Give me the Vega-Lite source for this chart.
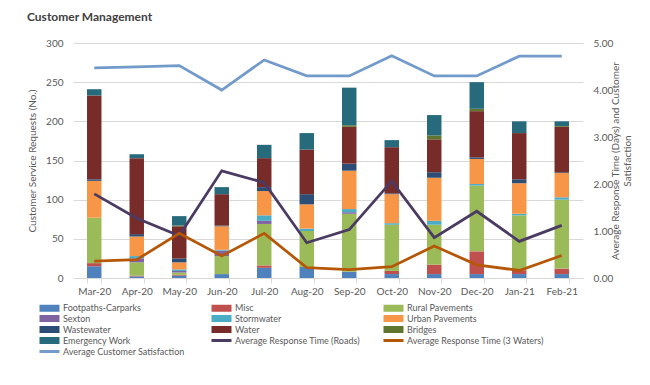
{
  "$schema": "https://vega.github.io/schema/vega-lite/v6.json",
  "autosize": "none",
  "width": 510,
  "height": 235,
  "padding": {"left": 73, "top": 43, "right": 67, "bottom": 107},
  "background": "white",
  "title": {
    "text": "Customer Management",
    "anchor": "start",
    "frame": "group",
    "dx": -46,
    "fontSize": 12,
    "fontWeight": "bold",
    "font": "Lato",
    "color": "#404040",
    "offset": 14
  },
  "config": {
    "font": "Lato",
    "view": {"stroke": null},
    "axis": {"labelColor": "#595959", "titleColor": "#595959", "labelFontSize": 10, "titleFontSize": 10, "titleFontWeight": "normal", "labelFont": "Lato", "titleFont": "Lato"}
  },
  "datasets": {
    "bars": [
      {"month": "Mar-20", "series": "Footpaths-Carparks", "value": 15},
      {"month": "Mar-20", "series": "Misc", "value": 4},
      {"month": "Mar-20", "series": "Rural Pavements", "value": 58},
      {"month": "Mar-20", "series": "Urban Pavements", "value": 47},
      {"month": "Mar-20", "series": "Wastewater", "value": 2},
      {"month": "Mar-20", "series": "Water", "value": 107},
      {"month": "Mar-20", "series": "Emergency Work", "value": 8},
      {"month": "Apr-20", "series": "Footpaths-Carparks", "value": 2},
      {"month": "Apr-20", "series": "Misc", "value": 1},
      {"month": "Apr-20", "series": "Rural Pavements", "value": 17},
      {"month": "Apr-20", "series": "Sexton", "value": 5},
      {"month": "Apr-20", "series": "Stormwater", "value": 3},
      {"month": "Apr-20", "series": "Urban Pavements", "value": 25},
      {"month": "Apr-20", "series": "Wastewater", "value": 3},
      {"month": "Apr-20", "series": "Water", "value": 97},
      {"month": "Apr-20", "series": "Emergency Work", "value": 5},
      {"month": "May-20", "series": "Footpaths-Carparks", "value": 3},
      {"month": "May-20", "series": "Misc", "value": 1},
      {"month": "May-20", "series": "Rural Pavements", "value": 3},
      {"month": "May-20", "series": "Sexton", "value": 2},
      {"month": "May-20", "series": "Stormwater", "value": 2},
      {"month": "May-20", "series": "Urban Pavements", "value": 9},
      {"month": "May-20", "series": "Wastewater", "value": 5},
      {"month": "May-20", "series": "Water", "value": 41},
      {"month": "May-20", "series": "Bridges", "value": 1},
      {"month": "May-20", "series": "Emergency Work", "value": 12},
      {"month": "Jun-20", "series": "Footpaths-Carparks", "value": 5},
      {"month": "Jun-20", "series": "Rural Pavements", "value": 23},
      {"month": "Jun-20", "series": "Sexton", "value": 7},
      {"month": "Jun-20", "series": "Stormwater", "value": 1},
      {"month": "Jun-20", "series": "Urban Pavements", "value": 30},
      {"month": "Jun-20", "series": "Wastewater", "value": 1},
      {"month": "Jun-20", "series": "Water", "value": 40},
      {"month": "Jun-20", "series": "Emergency Work", "value": 9},
      {"month": "Jul-20", "series": "Footpaths-Carparks", "value": 13},
      {"month": "Jul-20", "series": "Misc", "value": 3},
      {"month": "Jul-20", "series": "Rural Pavements", "value": 53},
      {"month": "Jul-20", "series": "Sexton", "value": 4},
      {"month": "Jul-20", "series": "Stormwater", "value": 7},
      {"month": "Jul-20", "series": "Urban Pavements", "value": 31},
      {"month": "Jul-20", "series": "Wastewater", "value": 5},
      {"month": "Jul-20", "series": "Water", "value": 37},
      {"month": "Jul-20", "series": "Emergency Work", "value": 17},
      {"month": "Aug-20", "series": "Footpaths-Carparks", "value": 14},
      {"month": "Aug-20", "series": "Rural Pavements", "value": 46},
      {"month": "Aug-20", "series": "Stormwater", "value": 3},
      {"month": "Aug-20", "series": "Urban Pavements", "value": 31},
      {"month": "Aug-20", "series": "Wastewater", "value": 13},
      {"month": "Aug-20", "series": "Water", "value": 57},
      {"month": "Aug-20", "series": "Emergency Work", "value": 21},
      {"month": "Sep-20", "series": "Footpaths-Carparks", "value": 8},
      {"month": "Sep-20", "series": "Rural Pavements", "value": 74},
      {"month": "Sep-20", "series": "Sexton", "value": 2},
      {"month": "Sep-20", "series": "Stormwater", "value": 4},
      {"month": "Sep-20", "series": "Urban Pavements", "value": 49},
      {"month": "Sep-20", "series": "Wastewater", "value": 9},
      {"month": "Sep-20", "series": "Water", "value": 47},
      {"month": "Sep-20", "series": "Bridges", "value": 2},
      {"month": "Sep-20", "series": "Emergency Work", "value": 48},
      {"month": "Oct-20", "series": "Footpaths-Carparks", "value": 5},
      {"month": "Oct-20", "series": "Misc", "value": 4},
      {"month": "Oct-20", "series": "Rural Pavements", "value": 59},
      {"month": "Oct-20", "series": "Stormwater", "value": 2},
      {"month": "Oct-20", "series": "Urban Pavements", "value": 37},
      {"month": "Oct-20", "series": "Wastewater", "value": 1},
      {"month": "Oct-20", "series": "Water", "value": 59},
      {"month": "Oct-20", "series": "Emergency Work", "value": 9},
      {"month": "Nov-20", "series": "Footpaths-Carparks", "value": 5},
      {"month": "Nov-20", "series": "Misc", "value": 12},
      {"month": "Nov-20", "series": "Rural Pavements", "value": 51},
      {"month": "Nov-20", "series": "Stormwater", "value": 5},
      {"month": "Nov-20", "series": "Urban Pavements", "value": 55},
      {"month": "Nov-20", "series": "Wastewater", "value": 7},
      {"month": "Nov-20", "series": "Water", "value": 42},
      {"month": "Nov-20", "series": "Bridges", "value": 5},
      {"month": "Nov-20", "series": "Emergency Work", "value": 26},
      {"month": "Dec-20", "series": "Footpaths-Carparks", "value": 5},
      {"month": "Dec-20", "series": "Misc", "value": 29},
      {"month": "Dec-20", "series": "Rural Pavements", "value": 84},
      {"month": "Dec-20", "series": "Stormwater", "value": 2},
      {"month": "Dec-20", "series": "Urban Pavements", "value": 32},
      {"month": "Dec-20", "series": "Wastewater", "value": 2},
      {"month": "Dec-20", "series": "Water", "value": 59},
      {"month": "Dec-20", "series": "Bridges", "value": 3},
      {"month": "Dec-20", "series": "Emergency Work", "value": 34},
      {"month": "Jan-21", "series": "Footpaths-Carparks", "value": 5},
      {"month": "Jan-21", "series": "Misc", "value": 5},
      {"month": "Jan-21", "series": "Rural Pavements", "value": 70},
      {"month": "Jan-21", "series": "Stormwater", "value": 2},
      {"month": "Jan-21", "series": "Urban Pavements", "value": 39},
      {"month": "Jan-21", "series": "Wastewater", "value": 5},
      {"month": "Jan-21", "series": "Water", "value": 59},
      {"month": "Jan-21", "series": "Emergency Work", "value": 15},
      {"month": "Feb-21", "series": "Footpaths-Carparks", "value": 5},
      {"month": "Feb-21", "series": "Misc", "value": 7},
      {"month": "Feb-21", "series": "Rural Pavements", "value": 88},
      {"month": "Feb-21", "series": "Stormwater", "value": 3},
      {"month": "Feb-21", "series": "Urban Pavements", "value": 31},
      {"month": "Feb-21", "series": "Wastewater", "value": 1},
      {"month": "Feb-21", "series": "Water", "value": 58},
      {"month": "Feb-21", "series": "Bridges", "value": 1},
      {"month": "Feb-21", "series": "Emergency Work", "value": 6}
    ],
    "lines": [
      {"month": "Mar-20", "series": "Average Response Time (Roads)", "value": 1.79},
      {"month": "Apr-20", "series": "Average Response Time (Roads)", "value": 1.27},
      {"month": "May-20", "series": "Average Response Time (Roads)", "value": 0.9},
      {"month": "Jun-20", "series": "Average Response Time (Roads)", "value": 2.28},
      {"month": "Jul-20", "series": "Average Response Time (Roads)", "value": 2.03},
      {"month": "Aug-20", "series": "Average Response Time (Roads)", "value": 0.75},
      {"month": "Sep-20", "series": "Average Response Time (Roads)", "value": 1.03},
      {"month": "Oct-20", "series": "Average Response Time (Roads)", "value": 2.06},
      {"month": "Nov-20", "series": "Average Response Time (Roads)", "value": 0.86},
      {"month": "Dec-20", "series": "Average Response Time (Roads)", "value": 1.42},
      {"month": "Jan-21", "series": "Average Response Time (Roads)", "value": 0.78},
      {"month": "Feb-21", "series": "Average Response Time (Roads)", "value": 1.12},
      {"month": "Mar-20", "series": "Average Response Time (3 Waters)", "value": 0.36},
      {"month": "Apr-20", "series": "Average Response Time (3 Waters)", "value": 0.39},
      {"month": "May-20", "series": "Average Response Time (3 Waters)", "value": 0.95},
      {"month": "Jun-20", "series": "Average Response Time (3 Waters)", "value": 0.47},
      {"month": "Jul-20", "series": "Average Response Time (3 Waters)", "value": 0.95},
      {"month": "Aug-20", "series": "Average Response Time (3 Waters)", "value": 0.22},
      {"month": "Sep-20", "series": "Average Response Time (3 Waters)", "value": 0.18},
      {"month": "Oct-20", "series": "Average Response Time (3 Waters)", "value": 0.24},
      {"month": "Nov-20", "series": "Average Response Time (3 Waters)", "value": 0.68},
      {"month": "Dec-20", "series": "Average Response Time (3 Waters)", "value": 0.28},
      {"month": "Jan-21", "series": "Average Response Time (3 Waters)", "value": 0.16},
      {"month": "Feb-21", "series": "Average Response Time (3 Waters)", "value": 0.48},
      {"month": "Mar-20", "series": "Average Customer Satisfaction", "value": 4.47},
      {"month": "Apr-20", "series": "Average Customer Satisfaction", "value": 4.49},
      {"month": "May-20", "series": "Average Customer Satisfaction", "value": 4.52},
      {"month": "Jun-20", "series": "Average Customer Satisfaction", "value": 4.0},
      {"month": "Jul-20", "series": "Average Customer Satisfaction", "value": 4.64},
      {"month": "Aug-20", "series": "Average Customer Satisfaction", "value": 4.3},
      {"month": "Sep-20", "series": "Average Customer Satisfaction", "value": 4.3},
      {"month": "Oct-20", "series": "Average Customer Satisfaction", "value": 4.73},
      {"month": "Nov-20", "series": "Average Customer Satisfaction", "value": 4.3},
      {"month": "Dec-20", "series": "Average Customer Satisfaction", "value": 4.3},
      {"month": "Jan-21", "series": "Average Customer Satisfaction", "value": 4.72},
      {"month": "Feb-21", "series": "Average Customer Satisfaction", "value": 4.72}
    ]
  },
  "encoding": {
    "x": {
      "field": "month",
      "type": "nominal",
      "sort": null,
      "scale": {"paddingInner": 0.66, "paddingOuter": 0.33},
      "axis": {
        "title": null,
        "labelAngle": 0,
        "domainColor": "#D9D9D9",
        "tickColor": "#D9D9D9",
        "tickBand": "extent",
        "tickSize": 5,
        "labelPadding": 3
      }
    }
  },
  "layer": [
    {
      "data": {"name": "bars"},
      "transform": [
        {"calculate": "indexof(['Footpaths-Carparks','Misc','Rural Pavements','Sexton','Stormwater','Urban Pavements','Wastewater','Water','Bridges','Emergency Work'], datum.series)", "as": "k"}
      ],
      "mark": {"type": "bar"},
      "encoding": {
        "y": {
          "field": "value",
          "type": "quantitative",
          "stack": "zero",
          "scale": {"domain": [0, 300]},
          "axis": {
            "title": "Customer Service Requests (No.)",
            "values": [0, 50, 100, 150, 200, 250, 300],
            "domain": false,
            "ticks": false,
            "gridColor": "#D9D9D9",
            "labelPadding": 10,
            "titlePadding": 8
          }
        },
        "order": {"field": "k", "type": "quantitative", "sort": "ascending"},
        "color": {
          "field": "series",
          "type": "nominal",
          "scale": {
            "domain": ["Footpaths-Carparks", "Misc", "Rural Pavements", "Sexton", "Stormwater", "Urban Pavements", "Wastewater", "Water", "Bridges", "Emergency Work", "Average Response Time (Roads)", "Average Response Time (3 Waters)", "Average Customer Satisfaction"],
            "range": ["#4F81BD", "#C0504D", "#9BBB59", "#8064A2", "#4BACC6", "#F79646", "#2C4D75", "#772C2A", "#5F7530", "#276A7C", "#4B3A62", "#B65708", "#729ACA"]
          },
          "legend": {
            "title": null,
            "orient": "none",
            "legendX": -28,
            "legendY": 260,
            "direction": "horizontal",
            "columns": 3,
            "gridAlign": "all",
            "columnPadding": 5,
            "rowPadding": -7,
            "labelFontSize": 9,
            "labelColor": "#595959",
            "labelOffset": 9,
            "labelLimit": 200,
            "symbolSize": 400,
            "encode": {
              "symbols": {
                "update": {
                  "shape": {"signal": "indexof(['Average Response Time (Roads)','Average Response Time (3 Waters)','Average Customer Satisfaction'], datum.value) >= 0 ? 'stroke' : 'M-1,-0.35H1V0.35H-1Z'"},
                  "strokeWidth": {"signal": "indexof(['Average Response Time (Roads)','Average Response Time (3 Waters)','Average Customer Satisfaction'], datum.value) >= 0 ? 3 : 0"},
                  "fill": {"scale": "color", "field": "value"},
                  "stroke": {"scale": "color", "field": "value"},
                  "opacity": {"value": 1},
                  "size": {"value": 400}
                }
              }
            }
          }
        }
      }
    },
    {
      "data": {"name": "lines"},
      "mark": {"type": "line", "strokeWidth": 2.75},
      "encoding": {
        "y": {
          "field": "value",
          "type": "quantitative",
          "scale": {"domain": [0, 5]},
          "axis": {
            "orient": "right",
            "title": ["Average Response Time (Days) and Customer", "Satisfaction"],
            "titleAngle": -90,
            "titleBaseline": "top",
            "values": [0, 1, 2, 3, 4, 5],
            "format": ".2f",
            "grid": false,
            "domain": false,
            "ticks": false,
            "labelPadding": 10,
            "titlePadding": -14
          }
        },
        "color": {"field": "series", "type": "nominal"}
      }
    }
  ],
  "resolve": {"scale": {"y": "independent"}}
}
